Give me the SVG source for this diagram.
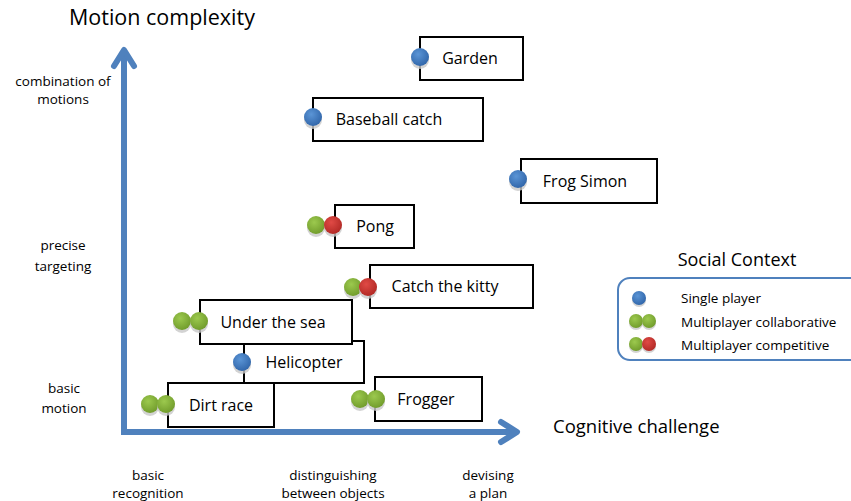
<svg xmlns="http://www.w3.org/2000/svg" width="851" height="501" viewBox="0 0 851 501">
<defs>
<radialGradient id="gb" cx="0.4" cy="0.35" r="0.7"><stop offset="0" stop-color="#5b95d6"/><stop offset="1" stop-color="#2f64a8"/></radialGradient>
<radialGradient id="gg" cx="0.4" cy="0.35" r="0.7"><stop offset="0" stop-color="#9cc94e"/><stop offset="1" stop-color="#6f9a2a"/></radialGradient>
<radialGradient id="gr" cx="0.4" cy="0.35" r="0.7"><stop offset="0" stop-color="#e04a45"/><stop offset="1" stop-color="#b02824"/></radialGradient>
<marker id="ah" viewBox="-24 -16 30 32" refX="0" refY="0" markerWidth="30" markerHeight="32" markerUnits="userSpaceOnUse" orient="auto">
<path d="M-16,-10 L0,0 L-16,10" fill="none" stroke="#4f81bd" stroke-width="6" stroke-linecap="round" stroke-linejoin="round"/>
</marker>
</defs>
<style>
text{font-family:"Open Sans","Liberation Sans",sans-serif;fill:#000}
.box{fill:#fff;stroke:#000;stroke-width:2}
.lbl{font-size:16px;text-anchor:middle}
.ax{font-size:13.5px;text-anchor:middle}
.lg{font-size:13.5px}
.sh{fill:#c8c8c8;opacity:0.8}
.b{fill:url(#gb)}
.g{fill:url(#gg)}
.r{fill:url(#gr)}
</style>
<rect width="851" height="501" fill="#fff"/>
<g id="connectors">
<line x1="124" y1="435" x2="124" y2="50" stroke="#4f81bd" stroke-width="6" marker-end="url(#ah)"/>
<line x1="121" y1="432" x2="517" y2="432" stroke="#4f81bd" stroke-width="6" marker-end="url(#ah)"/>
</g>
<g id="axis-labels">
<text x="69" y="25" font-size="21.5">Motion complexity</text>
<text x="553" y="433" font-size="18.5">Cognitive challenge</text>
<text class="ax" x="63" y="86">combination of</text>
<text class="ax" x="63" y="104">motions</text>
<text class="ax" x="63" y="250">precise</text>
<text class="ax" x="63" y="271">targeting</text>
<text class="ax" x="64" y="393">basic</text>
<text class="ax" x="64" y="413">motion</text>
<text class="ax" x="148" y="480">basic</text>
<text class="ax" x="148" y="498">recognition</text>
<text class="ax" x="333" y="480">distinguishing</text>
<text class="ax" x="333" y="498">between objects</text>
<text class="ax" x="488" y="480">devising</text>
<text class="ax" x="488" y="498">a plan</text>
</g>
<g id="garden">
<rect class="box" x="420" y="37" width="103" height="43"/>
<text class="lbl" x="470" y="64">Garden</text>
<circle class="sh" cx="420" cy="60" r="9"/><circle class="b" cx="420" cy="57" r="9"/>
</g>
<g id="baseball">
<rect class="box" x="313" y="98" width="170" height="43"/>
<text class="lbl" x="389" y="125">Baseball catch</text>
<circle class="sh" cx="313" cy="120" r="9"/><circle class="b" cx="313" cy="117" r="9"/>
</g>
<g id="frogsimon">
<rect class="box" x="521" y="159" width="136" height="44"/>
<text class="lbl" x="585" y="187">Frog Simon</text>
<circle class="sh" cx="518" cy="182" r="9"/><circle class="b" cx="518" cy="179" r="9"/>
</g>
<g id="pong">
<rect class="box" x="335" y="205" width="79" height="43"/>
<text class="lbl" x="375" y="232">Pong</text>
<circle class="sh" cx="316" cy="228" r="9"/><circle class="g" cx="316" cy="225" r="9"/>
<circle class="sh" cx="333" cy="228" r="9"/><circle class="r" cx="333" cy="225" r="9"/>
</g>
<g id="kitty">
<rect class="box" x="370" y="265" width="163" height="43"/>
<text class="lbl" x="445" y="292">Catch the kitty</text>
<circle class="sh" cx="353" cy="290" r="9"/><circle class="g" cx="353" cy="287" r="9"/>
<circle class="sh" cx="368" cy="290" r="9"/><circle class="r" cx="368" cy="287" r="9"/>
</g>
<g id="helicopter">
<rect class="box" x="244" y="341" width="120" height="42"/>
<text class="lbl" x="304" y="368">Helicopter</text>
<circle class="sh" cx="242" cy="365" r="9"/><circle class="b" cx="242" cy="362" r="9"/>
</g>
<g id="undersea">
<rect class="box" x="200" y="300" width="152" height="44"/>
<text class="lbl" x="273" y="328">Under the sea</text>
<circle class="sh" cx="182" cy="324" r="9"/><circle class="g" cx="182" cy="321" r="9"/>
<circle class="sh" cx="199" cy="324" r="9"/><circle class="g" cx="199" cy="321" r="9"/>
</g>
<g id="dirtrace">
<rect class="box" x="168" y="383" width="106" height="44"/>
<text class="lbl" x="221" y="411">Dirt race</text>
<circle class="sh" cx="150" cy="407" r="9"/><circle class="g" cx="150" cy="404" r="9"/>
<circle class="sh" cx="166" cy="407" r="9"/><circle class="g" cx="166" cy="404" r="9"/>
</g>
<g id="frogger">
<rect class="box" x="375" y="377" width="107" height="44"/>
<text class="lbl" x="426" y="405">Frogger</text>
<circle class="sh" cx="360" cy="402" r="9"/><circle class="g" cx="360" cy="399" r="9"/>
<circle class="sh" cx="376" cy="402" r="9"/><circle class="g" cx="376" cy="399" r="9"/>
</g>
<g id="legend">
<text x="737" y="266" font-size="18" text-anchor="middle">Social Context</text>
<rect x="618" y="278" width="250" height="82" rx="12" fill="none" stroke="#4f81bd" stroke-width="2"/>
<circle class="sh" cx="639" cy="300" r="7"/><circle class="b" cx="639" cy="298" r="7"/>
<text class="lg" x="681" y="303">Single player</text>
<circle class="sh" cx="636" cy="323" r="7"/><circle class="g" cx="636" cy="321" r="7"/>
<circle class="sh" cx="649" cy="323" r="7"/><circle class="g" cx="649" cy="321" r="7"/>
<text class="lg" x="681" y="327">Multiplayer collaborative</text>
<circle class="sh" cx="636" cy="346" r="7"/><circle class="g" cx="636" cy="344" r="7"/>
<circle class="sh" cx="649" cy="346" r="7"/><circle class="r" cx="649" cy="344" r="7"/>
<text class="lg" x="681" y="350">Multiplayer competitive</text>
</g>
</svg>
